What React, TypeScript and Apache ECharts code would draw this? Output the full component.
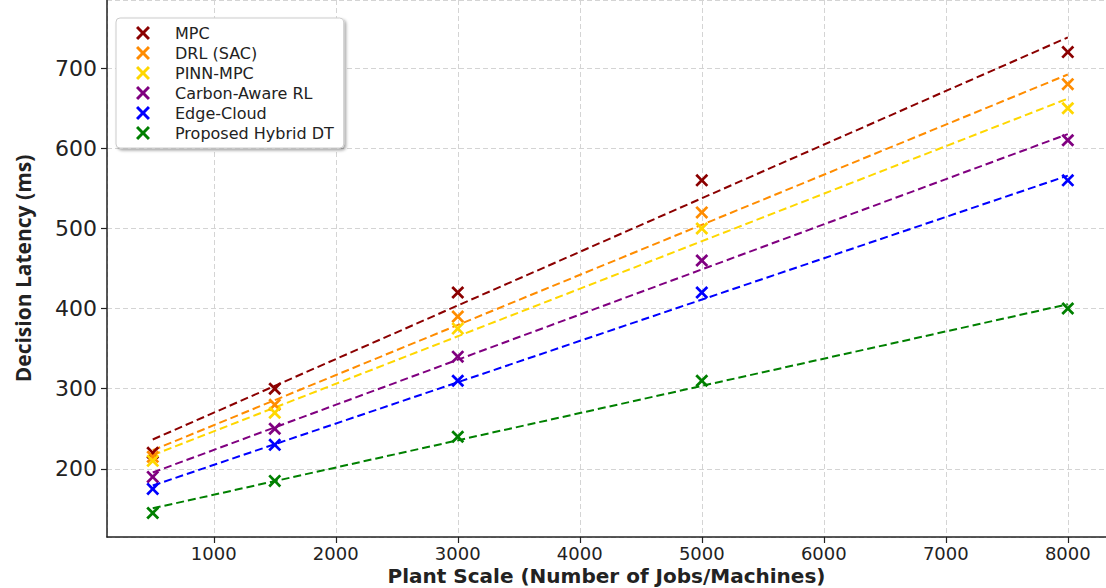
import React, { useEffect, useRef } from "react";
import * as echarts from "echarts";

const xValues = [500, 1500, 3000, 5000, 8000];
const seriesNames = ["MPC", "DRL (SAC)", "PINN-MPC", "Carbon-Aware RL", "Edge-Cloud", "Proposed Hybrid DT"];
const seriesColors = ["#8B0000", "#FF8C00", "#FFD700", "#800080", "#0000FF", "#008000"];
const mpc = [220, 300, 420, 560, 720];
const drl = [215, 280, 390, 520, 680];
const pinn = [210, 270, 375, 500, 650];
const carbon = [190, 250, 340, 460, 610];
const edge = [175, 230, 310, 420, 560];
const hybrid = [145, 185, 240, 310, 400];
const allValues = [mpc, drl, pinn, carbon, edge, hybrid];

const xTitle = "Plant Scale (Number of Jobs/Machines)";
const yTitle = "Decision Latency (ms)";

const X_ICON =
  "path://M0,1.5 L1.5,0 L5,3.5 L8.5,0 L10,1.5 L6.5,5 L10,8.5 L8.5,10 L5,6.5 L1.5,10 L0,8.5 L3.5,5 Z";

function fit(xs: number[], ys: number[]) {
  const n = xs.length;
  const mx = xs.reduce((a, b) => a + b, 0) / n;
  const my = ys.reduce((a, b) => a + b, 0) / n;
  let sxy = 0;
  let sxx = 0;
  for (let i = 0; i < n; i++) {
    sxy += (xs[i] - mx) * (ys[i] - my);
    sxx += (xs[i] - mx) * (xs[i] - mx);
  }
  const slope = sxy / sxx;
  const icpt = my - slope * mx;
  const x0 = Math.min(...xs);
  const x1 = Math.max(...xs);
  return [
    [x0, icpt + slope * x0],
    [x1, icpt + slope * x1],
  ];
}

export default function App() {
  const ref = useRef<HTMLDivElement>(null);
  useEffect(() => {
    if (!ref.current) return;
    const chart = echarts.init(ref.current, undefined, { renderer: "svg" });
    const lineSeries = allValues.map((vals, i) => ({
      name: seriesNames[i] + " fit",
      type: "line",
      data: fit(xValues, vals),
      symbol: "none",
      silent: true,
      z: 1,
      lineStyle: { color: seriesColors[i], width: 2, type: [8, 4] },
    }));
    const scatterSeries = allValues.map((vals, i) => ({
      name: seriesNames[i],
      type: "scatter",
      data: vals.map((v, j) => [xValues[j], v]),
      symbol: X_ICON,
      symbolSize: 13,
      z: 3,
      itemStyle: { color: seriesColors[i], opacity: 1 },
    }));
    chart.setOption({
      animation: false,
      backgroundColor: "#ffffff",
      grid: { left: 107, right: 0, top: 0, bottom: 51, containLabel: false, outerBoundsMode: "none" },
      legend: {
        data: seriesNames.map((n) => ({ name: n, icon: X_ICON })),
        orient: "vertical",
        left: 116,
        top: 18,
        padding: [7, 10, 7, 20],
        itemWidth: 14,
        itemHeight: 14,
        itemGap: 4,
        backgroundColor: "#ffffff",
        borderColor: "#cccccc",
        borderWidth: 1,
        borderRadius: 4,
        shadowColor: "rgba(0,0,0,0.35)",
        shadowBlur: 3,
        shadowOffsetX: 2,
        shadowOffsetY: 2,
        textStyle: {
          fontFamily: "DejaVu Sans",
          fontSize: 16,
          lineHeight: 16,
          color: "#222",
          padding: [0, 0, 0, 20],
        },
      },
      xAxis: {
        type: "value",
        min: 125,
        max: 8313,
        splitNumber: 8,
        name: xTitle,
        nameLocation: "middle",
        nameGap: 29,
        nameMoveOverlap: false,
        nameTextStyle: {
          fontFamily: "DejaVu Sans",
          fontWeight: "bold",
          fontSize: 20,
          lineHeight: 20,
          color: "#222",
        },
        axisLine: { show: true, onZero: false, lineStyle: { color: "#222", width: 1.5 } },
        axisTick: { show: true, length: 6, lineStyle: { color: "#222", width: 1.2 } },
        axisLabel: {
          showMinLabel: false,
          showMaxLabel: false,
          fontFamily: "DejaVu Sans",
          fontSize: 18,
          lineHeight: 19,
          color: "#222",
          margin: 7,
          formatter: (v: number) => String(v),
        },
        splitLine: { show: true, lineStyle: { color: "#d4d4d4", type: [5, 3], width: 1 } },
      },
      yAxis: {
        type: "value",
        min: 115,
        max: 785,
        splitNumber: 5,
        name: yTitle,
        nameLocation: "middle",
        nameGap: 74,
        nameMoveOverlap: false,
        nameTextStyle: { fontFamily: "Open Sans", fontWeight: "bold", fontSize: 21, color: "#222" },
        axisLine: { show: true, onZero: false, lineStyle: { color: "#222", width: 1.5 } },
        axisTick: { show: true, length: 6, lineStyle: { color: "#222", width: 1.2 } },
        axisLabel: {
          showMinLabel: false,
          showMaxLabel: false,
          fontFamily: "DejaVu Sans",
          fontSize: 22,
          color: "#222",
          margin: 10,
          formatter: (v: number) => String(v),
        },
        splitLine: { show: true, lineStyle: { color: "#d4d4d4", type: [5, 3], width: 1 } },
      },
      series: [...lineSeries, ...scatterSeries],
    });
    return () => chart.dispose();
  }, []);
  return (
    <div
      ref={ref}
      style={{ position: "fixed", left: 0, top: 0, width: 1106, height: 588 }}
    />
  );
}
